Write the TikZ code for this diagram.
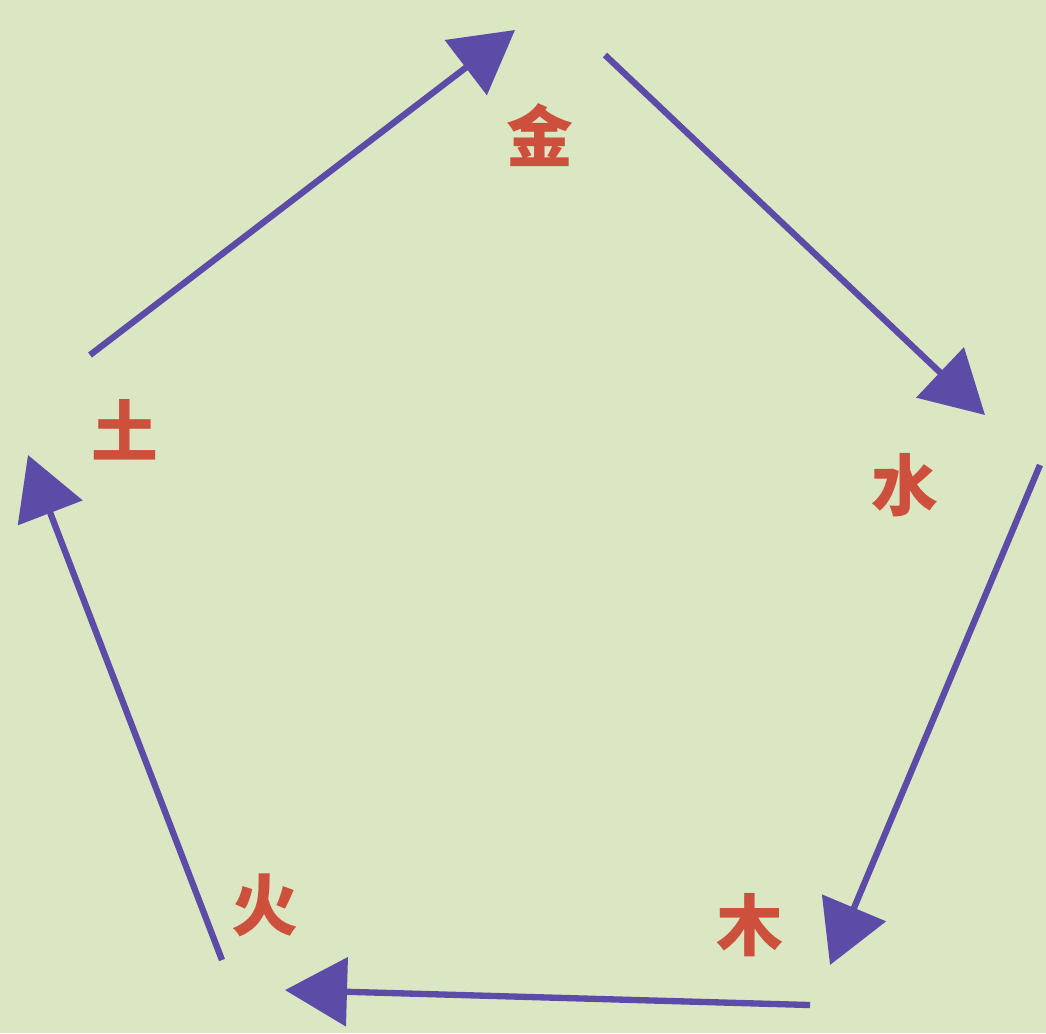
\documentclass[tikz,border=0pt]{standalone}
\usepackage{fontspec}
\newfontfamily\cjk{Noto Sans CJK SC}
\usetikzlibrary{arrows.meta}
\definecolor{paper}{RGB}{218,231,194}
\definecolor{elemred}{RGB}{205,80,60}
\definecolor{arrowblue}{RGB}{92,76,168}
\tikzset{
  elem/.style={text=elemred, font=\cjk\fontsize{19}{19}\selectfont\bfseries},
  cycle/.style={draw=arrowblue, line width=1.8pt, -{Triangle[length=0.62cm,width=0.68cm]}},
}

\begin{document}
\begin{tikzpicture}
			\fill[paper] (0,0) rectangle (10.46,-10.33);
			\useasboundingbox (0,0) rectangle (10.46,-10.33);
			% the five elements
			\node[elem] (jin) at (5.40,-1.35) {金};
			\node[elem] (shui) at (9.05,-4.85) {水};
			\node[elem] (mu) at (7.50,-9.25) {木};
			\node[elem] (huo) at (2.65,-9.05) {火};
			\node[elem] (tu) at (1.25,-4.30) {土};
			% arrow ends
			\coordinate (tuS) at (0.90,-3.55);
			\coordinate (jinE) at (5.15,-0.30);
			\coordinate (jinS) at (6.05,-0.55);
			\coordinate (shuiE) at (9.85,-4.15);
			\coordinate (shuiS) at (10.40,-4.65);
			\coordinate (muE) at (8.30,-9.65);
			\coordinate (muS) at (8.10,-10.05);
			\coordinate (huoE) at (2.85,-9.90);
			\coordinate (huoS) at (2.22,-9.60);
			\coordinate (tuE) at (0.28,-4.55);
			\draw[cycle] (tuS) -- (jinE);
			\draw[cycle] (jinS) -- (shuiE);
			\draw[cycle] (shuiS) -- (muE);
			\draw[cycle] (muS) -- (huoE);
			\draw[cycle] (huoS) -- (tuE);
		\end{tikzpicture}
\end{document}
